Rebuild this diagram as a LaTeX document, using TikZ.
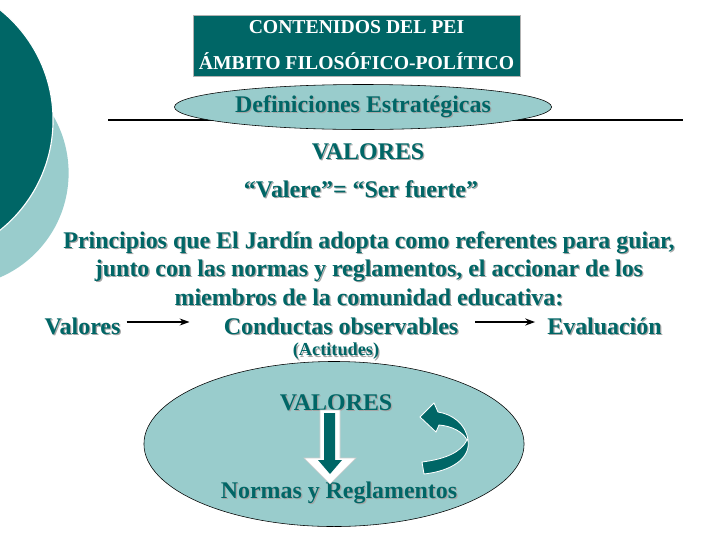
\documentclass[tikz,border=0pt]{standalone}
\usepackage{fontspec}
\setmainfont{Liberation Serif}
\usetikzlibrary{shapes.geometric,arrows.meta,positioning}
\definecolor{darkteal}{RGB}{0,102,102}
\definecolor{paleteal}{RGB}{153,204,204}
\definecolor{shadowgray}{RGB}{165,165,165}
\newcommand\shtext[1]{\rlap{\kern0.9pt\raisebox{-0.9pt}{\color{shadowgray}#1}}#1}
\tikzset{
  label text/.style={text=darkteal,font=\bfseries\fontsize{17}{20.3}\selectfont,inner sep=0pt},
  oval/.style={ellipse,draw=black,fill=paleteal},
  flow/.style={-{Stealth[length=7pt,width=5pt]},line width=1pt},
}
\begin{document}
\begin{tikzpicture}[x=0.025cm,y=-0.025cm]
\useasboundingbox (0,0) rectangle (720,540);

% circles on the left
\begin{scope}
  \clip (0,0) rectangle (720,540);
  \fill[paleteal] (-45,173) circle (2.84cm);
  \filldraw[darkteal, draw=white, line width=0.8pt] (-88,120) circle (3.525cm);
\end{scope}

\node[fill=darkteal, draw=gray!60, minimum width=8.175cm, minimum height=1.525cm,
  text=white, align=center, inner sep=0pt,
  font=\bfseries\fontsize{14}{25.5}\selectfont] (title) at (356.5,45.5)
  {CONTENIDOS DEL PEI\\ÁMBITO FILOSÓFICO-POLÍTICO};

\coordinate (lineL) at (108,120);
\coordinate (lineR) at (683,120);
\draw[line width=1.2pt] (lineL) -- (lineR);
\node[label text, oval, inner sep=0pt, minimum width=9.425cm, minimum height=1.125cm] (defs) at (363,107) {\shtext{Definiciones Estratégicas}};

\node[label text] (valores) at (368,152) {\shtext{VALORES}};
\node[label text] (valere) at (361,190) {\shtext{“Valere”= “Ser fuerte”}};
\node[label text, align=center] (princ) at (369,269)
  {\shtext{Principios que El Jardín adopta como referentes para guiar,}\\
   \shtext{junto con las normas y reglamentos, el accionar de los}\\
   \shtext{miembros de la comunidad educativa:}};

\node[label text, anchor=base] (val) at (82.5,334) {\shtext{Valores}};
\node[label text, anchor=base] (cond) at (341,334) {\shtext{Conductas observables}};
\node[label text, anchor=base] (eval) at (604.5,334) {\shtext{Evaluación}};
\draw[flow, shorten <=0.15cm, shorten >=0.85cm] ([yshift=0.3cm]val.base east) -- ([yshift=0.3cm]cond.base west);
\draw[flow, shorten <=0.42cm, shorten >=0.3cm] ([yshift=0.3cm]cond.base east) -- ([yshift=0.3cm]eval.base west);

\node[label text, font=\bfseries\fontsize{13}{15}\selectfont] (actit) at (336,352) {\shtext{(Actitudes)}};

\node[oval, minimum width=9.5cm, minimum height=4.125cm] (cycle) at (334,444) {};
\node[label text] (val2) at (336,403) {\shtext{VALORES}};
\node[label text] (normas) at (339,493) {\shtext{Normas y Reglamentos}};

% block arrow down
\filldraw[fill=white, draw=gray!40, line width=0.4pt]
  (320,410) -- (340,410) -- (340,458) -- (356,458) -- (330,484) -- (304,458) -- (320,458) -- cycle;
\fill[darkteal] (324,413) -- (335,413) -- (335,460) -- (342,460) -- (330,474) -- (318,460) -- (324,460) -- cycle;

% curved arrow
\filldraw[fill=darkteal, draw=white, line width=0.6pt]
  (424,474) .. controls (452,471) and (471,458) .. (468,440)
  .. controls (466,424) and (452,414) .. (438,412)
  -- (434,403) -- (420,417) -- (436,432) -- (439,425)
  .. controls (452,426) and (463,432) .. (467,440)
  .. controls (461,452) and (446,459) .. (422,462)
  -- cycle;
\end{tikzpicture}
\end{document}
